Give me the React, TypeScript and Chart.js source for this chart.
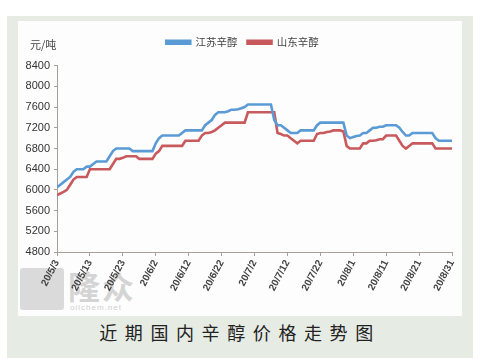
import React, { useEffect, useRef } from "react";
import { Chart, registerables } from "chart.js";

Chart.register(...registerables);

const tickLabels = ["20/5/3", "20/5/13", "20/5/23", "20/6/2", "20/6/12", "20/6/22", "20/7/2", "20/7/12", "20/7/22", "20/8/1", "20/8/11", "20/8/21", "20/8/31"];
const seriesNames = ["江苏辛醇", "山东辛醇"];

// daily values from 20/5/3 to 20/8/31 (元/吨)
const jiangsu = [
  6050, 6100, 6150, 6200, 6250, 6350, 6400, 6400, 6400, 6450,
  6450, 6500, 6550, 6550, 6550, 6550, 6650, 6750, 6800, 6800,
  6800, 6800, 6800, 6750, 6750, 6750, 6750, 6750, 6750, 6750,
  6900, 7000, 7050, 7050, 7050, 7050, 7050, 7050, 7100, 7150,
  7150, 7150, 7150, 7150, 7150, 7250, 7300, 7350, 7450, 7500,
  7500, 7500, 7520, 7550, 7550, 7560, 7580, 7600, 7650, 7650,
  7650, 7650, 7650, 7650, 7650, 7650, 7350, 7250, 7250, 7200,
  7150, 7100, 7100, 7100, 7150, 7150, 7150, 7150, 7150, 7250,
  7300, 7300, 7300, 7300, 7300, 7300, 7300, 7300, 7050, 7000,
  7020, 7040, 7050, 7100, 7100, 7150, 7200, 7200, 7220, 7220,
  7250, 7250, 7250, 7250, 7200, 7120, 7050, 7050, 7100, 7100,
  7100, 7100, 7100, 7100, 7100, 7000, 6950, 6950, 6950, 6950,
  6950,
];

const shandong = [
  5900, 5930, 5960, 6000, 6100, 6200, 6250, 6250, 6250, 6250,
  6400, 6400, 6400, 6400, 6400, 6400, 6400, 6500, 6600, 6600,
  6620, 6650, 6650, 6650, 6650, 6600, 6600, 6600, 6600, 6600,
  6700, 6750, 6850, 6850, 6850, 6850, 6850, 6850, 6850, 6950,
  6950, 6950, 6950, 6950, 7050, 7100, 7100, 7120, 7150, 7200,
  7250, 7300, 7300, 7300, 7300, 7300, 7300, 7300, 7500, 7500,
  7500, 7500, 7500, 7500, 7500, 7500, 7500, 7100, 7080, 7050,
  7050, 7000, 6950, 6900, 6950, 6950, 6950, 6950, 6950, 7080,
  7100, 7100, 7120, 7130, 7150, 7150, 7150, 7130, 6850, 6800,
  6800, 6800, 6800, 6900, 6900, 6950, 6950, 6960, 6980, 6980,
  7050, 7050, 7050, 7050, 6950, 6850, 6800, 6850, 6900, 6900,
  6900, 6900, 6900, 6900, 6900, 6800, 6800, 6800, 6800, 6800,
  6800,
];

const yMin = 4800;
const yMax = 8400;
const yStep = 400;

const BLUE = "#5b9bd5";
const RED = "#c8595c";
const AXIS = "#a79f98";

export default function App() {
  const ref = useRef<HTMLCanvasElement | null>(null);

  useEffect(() => {
    if (!ref.current) return;
    const chart = new Chart(ref.current, {
      type: "line",
      data: {
        datasets: [
          {
            label: seriesNames[0],
            data: jiangsu.map((v, i) => ({ x: i, y: v })),
            borderColor: BLUE,
            backgroundColor: BLUE,
            borderWidth: 2.6,
            pointRadius: 0,
            tension: 0,
          },
          {
            label: seriesNames[1],
            data: shandong.map((v, i) => ({ x: i, y: v })),
            borderColor: RED,
            backgroundColor: RED,
            borderWidth: 2.6,
            pointRadius: 0,
            tension: 0,
          },
        ],
      },
      options: {
        animation: false,
        responsive: false,
        maintainAspectRatio: false,
        layout: { padding: { top: 6, right: 0, bottom: 0, left: 0 } },
        plugins: {
          legend: {
            display: true,
            position: "top",
            labels: {
              boxWidth: 24,
              boxHeight: 3,
              padding: 10,
              color: "#444",
              font: { family: "'Noto Sans CJK SC', sans-serif", size: 10.5 },
            },
          },
          subtitle: {
            display: true,
            text: "",
            position: "top",
            weight: 500,
            padding: { top: 0, bottom: 7 },
            font: { size: 1 },
          } as any,
          tooltip: { enabled: false },
        },
        scales: {
          x: {
            type: "linear",
            min: 0,
            max: (tickLabels.length - 1) * 10,
            afterFit: (s: any) => { s.height = 64; },
            ticks: {
              stepSize: 10,
              autoSkip: false,
              minRotation: 62,
              maxRotation: 62,
              padding: 2,
              color: "#444",
              font: { family: "'Liberation Sans', Arial, sans-serif", size: 10, weight: "bold" },
              callback: (v: any) => tickLabels[Math.round(Number(v) / 10)] ?? "",
            },
            grid: { display: true, drawOnChartArea: false, drawTicks: true, tickLength: 4, color: AXIS },
            border: { display: true, color: AXIS, width: 1 },
          },
          y: {
            min: yMin,
            max: yMax,
            afterFit: (s: any) => { s.width = 39; },
            ticks: {
              stepSize: yStep,
              padding: 4,
              color: "#333",
              font: { family: "'Liberation Sans', Arial, sans-serif", size: 11 },
              callback: (v: any) => String(v),
            },
            grid: { display: true, drawOnChartArea: false, drawTicks: true, tickLength: 3, color: AXIS },
            border: { display: true, color: AXIS, width: 1 },
          },
          spacer: {
            type: "linear",
            position: "right",
            display: true,
            afterFit: (s: any) => { s.width = 15; },
            ticks: { display: false },
            grid: { display: false },
            border: { display: false },
          },
        },
      },
    });
    return () => chart.destroy();
  }, []);

  return (
    <div style={{ position: "absolute", left: 0, top: 0, width: 490, height: 363, background: "#fff", overflow: "hidden" }}>
      <div style={{ position: "absolute", left: 7, top: 16, width: 466, height: 342, background: "#e6ebe4" }} />
      <div style={{ position: "absolute", left: 18, top: 21, width: 444, height: 295, background: "#fdfdfd" }} />
      <div style={{ position: "absolute", left: 20, top: 268, width: 44, height: 42, background: "#dadada", borderRadius: 3 }} />
      <div style={{ position: "absolute", left: 68, top: 266, fontFamily: "'Noto Sans CJK SC', sans-serif", fontSize: 32, fontWeight: 700, color: "#d4d4d4", lineHeight: "38px", letterSpacing: 2 }}>隆众</div>
      <div style={{ position: "absolute", left: 70, top: 303, fontFamily: "'Liberation Sans', Arial, sans-serif", fontSize: 8, color: "#d0d0d0", letterSpacing: 1 }}>oilchem.net</div>
      <canvas ref={ref} width={449} height={295} style={{ position: "absolute", left: 18, top: 21, width: 449, height: 295 }} />
      <div style={{ position: "absolute", left: 30, top: 36, fontFamily: "'Noto Sans CJK SC', sans-serif", fontSize: 11, color: "#444" }}>元/吨</div>
      <div style={{ position: "absolute", left: 0, top: 319, width: 480, textAlign: "center", fontFamily: "'Noto Sans CJK SC', sans-serif", fontSize: 18, color: "#222", letterSpacing: 7.6 }}>近期国内辛醇价格走势图</div>
    </div>
  );
}
